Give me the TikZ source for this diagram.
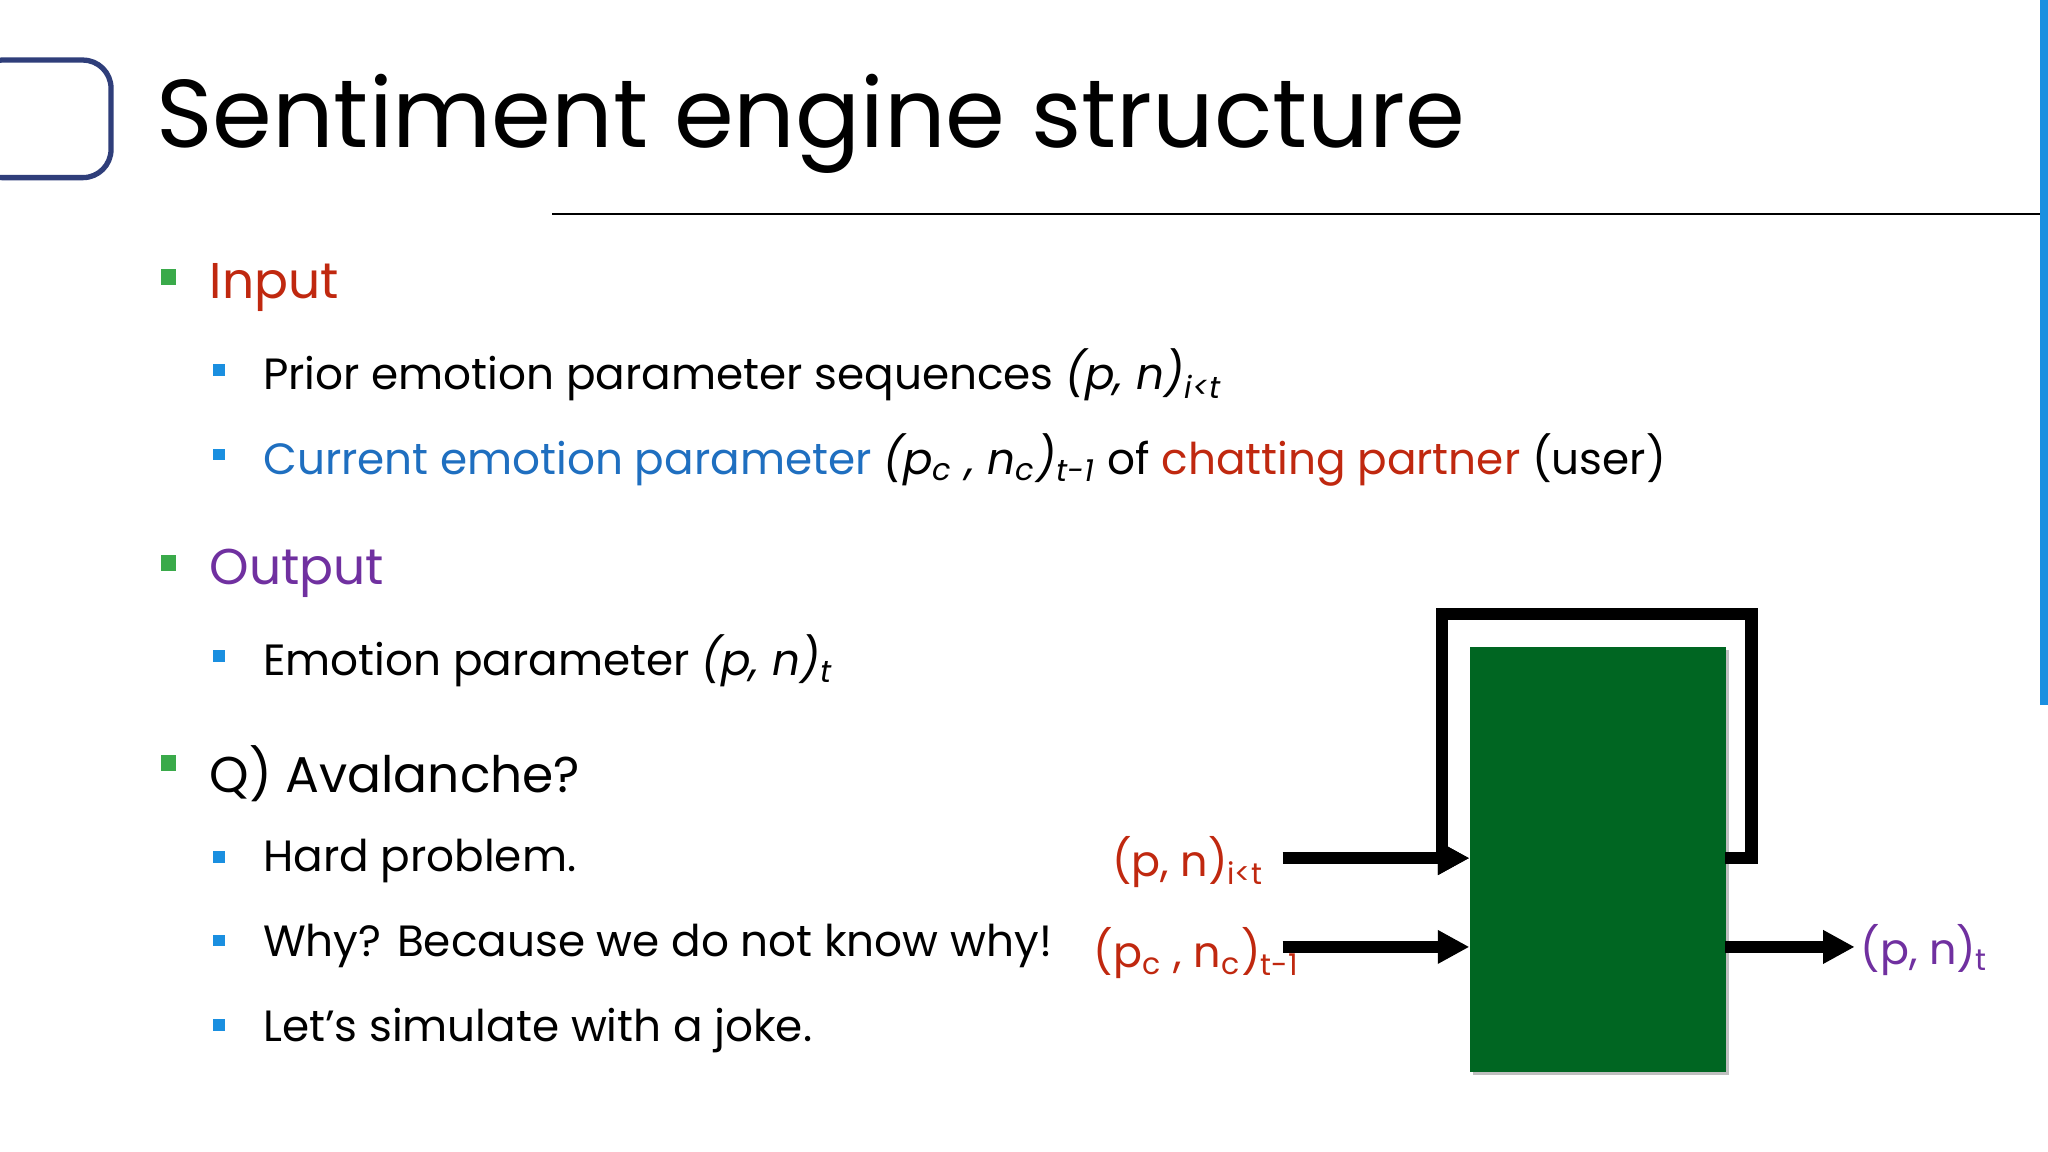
\documentclass[tikz,border=0pt]{standalone}
\usepackage{fontspec}
\setmainfont{Poppins}
\usetikzlibrary{arrows.meta}
\definecolor{inred}{HTML}{C0280F}
\definecolor{cblue}{HTML}{1F6FC0}
\definecolor{opurple}{HTML}{7030A0}
\definecolor{bgreen}{HTML}{3AAA4A}
\definecolor{sblue}{HTML}{1A8FE0}
\definecolor{boxgreen}{HTML}{006622}
\definecolor{frameblue}{HTML}{2F3E7A}
\tikzset{
 px/.style={x=0.013061cm,y=-0.013061cm},
 lvlone/.style={anchor=west,inner sep=0,font=\fontsize{14.3}{16}\selectfont},
 lvltwo/.style={anchor=west,inner sep=0,font=\fontsize{12.45}{14}\selectfont},
 bigbul/.style={fill=bgreen},
 smallbul/.style={fill=sblue},
 flow/.style={line width=3.5pt,-{Triangle[length=9pt,width=9pt]}},
 lbl/.style={anchor=west,inner sep=0,font=\fontsize{12.2}{14}\selectfont}
}
\begin{document}
\begin{tikzpicture}[px]
\useasboundingbox (0,0) rectangle (1568,882);
\fill[white] (0,0) rectangle (1568,882);
\draw[frameblue,line width=1.5pt,rounded corners=8pt] (-20,46) rectangle (85,136);
\node[anchor=west,inner sep=0,font=\fontsize{27.4}{32}\selectfont] (title) at (119,95) {Sentiment engine structure};
\draw[line width=0.6pt] (423,164) -- (1562,164);
\fill[sblue] (1562,0) rectangle (1568,540);
% bullets
\foreach \y in {212,431,584} \fill[bigbul] (123,\y-6) rectangle (135,\y+6);
\foreach \y in {283,348,502,656,720,785} \fill[smallbul] (163,\y-4.5) rectangle (172,\y+4.5);
\node[lvlone,text=inred] (in) at (160,220) {Input};
\node[lvltwo] (i1) at (201,287) {Prior emotion parameter sequences \textit{(p, n)\textsubscript{i<t}}};
\node[lvltwo] (i2) at (201,352) {\textcolor{cblue}{Current emotion parameter} \textit{(p\textsubscript{c} , n\textsubscript{c})\textsubscript{t-1}} of \textcolor{inred}{chatting partner} (user)};
\node[lvlone,text=opurple] (out) at (160,439) {Output};
\node[lvltwo] (o1) at (201,506) {Emotion parameter \textit{(p, n)\textsubscript{t}}};
\node[lvlone] (q) at (160,592) {Q) Avalanche?};
\node[lvltwo] (q1) at (201,659) {Hard problem.};
\node[lvltwo] (q2) at (201,724) {Why? Because we do not know why!};
\node[lvltwo] (q3) at (201,789) {Let’s simulate with a joke.};
% diagram
\fill[black!25] (1128,498) rectangle (1324,823);
\node[fill=boxgreen,minimum width=196*0.013061cm,minimum height=325*0.013061cm,inner sep=0,anchor=north west] (eng) at (1125,495) {};
\coordinate (a1) at (982,657);
\coordinate (a2) at (982,725);
\coordinate (b1) at (1125,657);
\coordinate (b2) at (1125,725);
\coordinate (fb) at (1321,657);
\coordinate (oe) at (1321,725);
\coordinate (ot) at (1420,725);
\draw[line width=3.5pt] (fb) -- (1341,657) -- (1341,470) -- (1104,470) -- (1104,657);
\draw[flow] (1100,657) -- (b1);
\draw[flow] (a1) -- (b1);
\draw[flow] (a2) -- (b2);
\draw[flow] (oe) -- (ot);
\node[lbl,text=inred] (l1) at (851,660) {(p, n)\textsubscript{i<t}};
\node[lbl,text=inred] (l2) at (837,730) {(p\textsubscript{c} , n\textsubscript{c})\textsubscript{t-1}};
\node[lbl,text=opurple] (l3) at (1424,727) {(p, n)\textsubscript{t}};
\end{tikzpicture}
\end{document}
